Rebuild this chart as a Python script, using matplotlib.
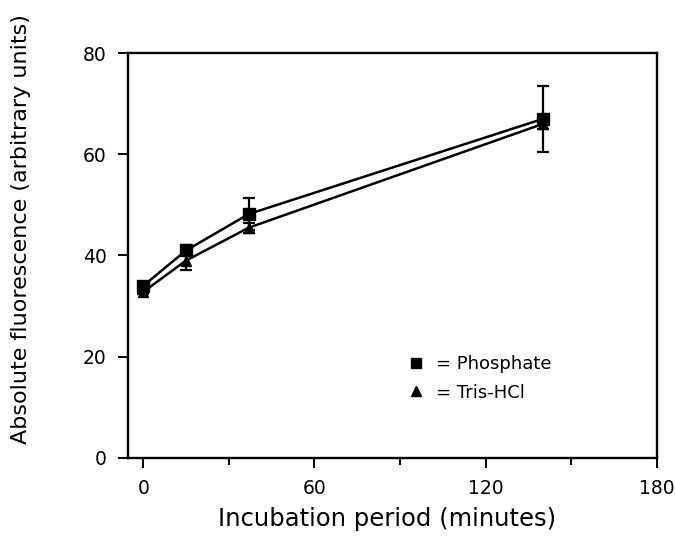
import numpy as np
from matplotlib import pyplot as plt
from matplotlib.lines import Line2D
from matplotlib.ticker import MultipleLocator

# data
time = [0, 15, 37, 140]
phosphate = [34.0, 41.0, 48.2, 67.0]
phosphate_err = [0.8, 1.0, 3.2, 6.5]
tris = [32.8, 39.0, 45.5, 66.0]
tris_err = [0.5, 1.8, 1.0, 1.0]

x_ticks = [0, 60, 120, 180]
y_ticks = [0, 20, 40, 60, 80]

plt.rcParams['font.family'] = ['DejaVu Sans']

fig = plt.figure(figsize=(6.75, 5.43), dpi=100)
ax = fig.add_axes([0.189, 0.157, 0.784, 0.745])

ax.errorbar(time, phosphate, yerr=phosphate_err, color='k', lw=1.8,
            marker='s', ms=8, capsize=4.5, elinewidth=1.6, capthick=1.6)
ax.errorbar(time, tris, yerr=tris_err, color='k', lw=1.8,
            marker='^', ms=7, capsize=4.5, elinewidth=1.6, capthick=1.6)

ax.set_xlim(-5.5, 180)
ax.set_ylim(0, 80)
ax.set_xticks(x_ticks)
ax.set_yticks(y_ticks)
ax.xaxis.set_minor_locator(MultipleLocator(30))
ax.tick_params(axis='both', which='major', direction='out', length=7, width=1.4,
               labelsize=13.5, pad=8, top=False, right=False)
ax.tick_params(axis='x', which='minor', direction='out', length=5, width=1.4, top=False)
for s in ax.spines.values():
    s.set_linewidth(1.7)

ax.set_xlabel('Incubation period (minutes)', fontsize=17.5)
ax.set_ylabel('Absolute fluorescence (arbitrary units)', fontsize=16)
ax.xaxis.set_label_coords(0.49, -0.122)
ax.yaxis.set_label_coords(-0.183, 0.566)

handles = [Line2D([], [], color='k', marker='s', ls='none', ms=7),
           Line2D([], [], color='k', marker='^', ls='none', ms=7)]
ax.legend(handles, ['= Phosphate', '= Tris-HCl'], frameon=False, fontsize=13,
          loc='upper left', bbox_to_anchor=(0.5, 0.29), handlelength=1.0,
          handletextpad=0.6, labelspacing=0.6, borderpad=0.3)

fig.savefig('out.png', dpi=100)
